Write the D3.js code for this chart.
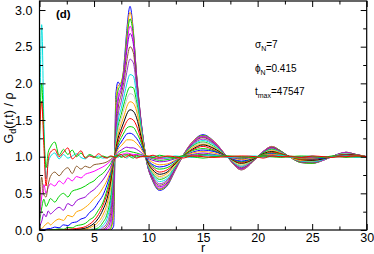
<!DOCTYPE html>
<html>
<head>
<meta charset="utf-8">
<script src="https://cdn.jsdelivr.net/npm/d3@7"></script>
<style>
  body { margin: 0; background: #fff; }
  svg text { font-family: "Liberation Sans", Arial, sans-serif; }
</style>
</head>
<body>
<div id="viz"></div>
<script>
// r grid shared by all curves
var rValues = [0, 0.2, 0.4, 0.6, 0.8, 1.0, 1.4, 1.8, 2.2, 2.6, 3.0, 3.4, 3.8, 4.2, 4.6, 5.0, 5.4, 5.8, 6.2, 6.5, 6.8,
  7.0, 7.2, 7.5, 7.8, 8.0, 8.3, 8.6, 8.9, 9.3,
  9.8, 10.4, 11.0, 11.7, 12.4, 13.1, 14.0, 15.0, 16.0, 17.2, 18.5, 19.8, 20.5, 21.3, 22.1, 23.0, 24.0, 25.0, 26.0, 26.8, 27.5, 28.1, 29.0, 30];

// early time -> late time
var curveColors = ['#0000ff', '#ffa500', '#00d000', '#ff00ff', '#9400d3', '#8b5a2b', '#9932cc', '#00e0e0',
  '#00d000', '#c8c8c8', '#ffa500', '#000000', '#ff0000', '#00d000', '#0000ff', '#ffa500', '#9400d3',
  '#00d000', '#ff00ff', '#8b5a2b', '#00e0e0', '#00d000', '#ff0000'];

var gCurves = [
  [0,0,0,0,0,0,0,0,0,0,0,0,0,0,0,0,0,0,0,0,0.05,
   1.85,2.02,1.95,2.35,2.72,3.05,2.72,2.1,1.45,
   0.95,0.66,0.54,0.6,0.8,1.0,1.2,1.3,1.21,1.0,0.82,0.97,1.07,1.14,1.08,0.99,0.92,0.91,0.95,1.0,1.04,1.06,1.03,1.0],
  [0,0,0,0,0,0,0,0,0,0,0,0,0,0,0,0,0,0,0,0.005,0.2,
   1.75,1.96,2.02,2.3,2.65,2.97,2.7,2.12,1.48,
   0.95,0.67,0.55,0.61,0.8,1.0,1.2,1.29,1.21,1.0,0.82,0.97,1.07,1.14,1.08,0.99,0.92,0.91,0.95,1.0,1.04,1.06,1.03,1.0],
  [0,0,0,0,0,0,0,0,0,0,0,0,0,0,0,0,0,0,0,0.02,0.35,
   1.62,1.9,2.0,2.26,2.58,2.88,2.66,2.12,1.5,
   0.95,0.67,0.56,0.62,0.81,1.0,1.19,1.29,1.2,1.0,0.83,0.97,1.07,1.13,1.08,0.99,0.92,0.91,0.95,1.0,1.04,1.06,1.03,1.0],
  [0,0,0,0,0,0,0,0,0,0,0,0,0,0,0,0,0,0,0.01,0.06,0.5,
   1.5,1.82,1.96,2.22,2.5,2.78,2.6,2.1,1.5,
   0.95,0.68,0.57,0.63,0.81,1.0,1.19,1.28,1.2,1.0,0.83,0.97,1.07,1.13,1.07,0.99,0.93,0.92,0.95,1.0,1.04,1.06,1.03,1.0],
  [0,0,0,0,0,0,0,0,0,0,0,0,0,0,0,0,0,0,0.03,0.12,0.62,
   1.42,1.75,1.92,2.18,2.44,2.68,2.54,2.08,1.5,
   0.96,0.69,0.59,0.64,0.82,1.0,1.18,1.27,1.19,1.0,0.84,0.97,1.06,1.13,1.07,0.99,0.93,0.92,0.96,1.0,1.04,1.05,1.03,1.0],
  [0,0,0,0,0,0,0,0,0,0,0,0,0,0,0,0,0,0.01,0.06,0.2,0.72,
   1.33,1.65,1.85,2.08,2.3,2.5,2.42,2.02,1.48,
   0.96,0.71,0.61,0.66,0.83,1.0,1.17,1.26,1.18,1.0,0.85,0.97,1.06,1.12,1.07,0.99,0.93,0.92,0.96,1.0,1.03,1.05,1.03,1.0],
  [0,0,0,0,0,0,0,0,0,0,0,0,0,0,0,0,0,0.03,0.1,0.28,0.8,
   1.27,1.56,1.76,1.98,2.15,2.33,2.28,1.95,1.45,
   0.96,0.73,0.63,0.68,0.84,1.0,1.16,1.24,1.17,1.0,0.86,0.98,1.06,1.11,1.06,0.99,0.94,0.93,0.96,1.0,1.03,1.05,1.02,1.0],
  [0,0,0,0,0,0,0,0,0,0,0,0,0,0,0,0,0.01,0.06,0.16,0.36,0.85,
   1.22,1.48,1.66,1.86,1.99,2.12,2.1,1.85,1.42,
   0.96,0.75,0.66,0.7,0.85,1.0,1.15,1.22,1.16,1.0,0.87,0.98,1.05,1.1,1.06,0.99,0.94,0.93,0.96,1.0,1.03,1.04,1.02,1.0],
  [0,0,0,0,0,0,0,0,0,0,0,0,0,0,0,0.01,0.03,0.1,0.22,0.44,0.88,
   1.18,1.4,1.58,1.75,1.86,1.95,1.94,1.75,1.38,
   0.97,0.77,0.69,0.73,0.86,1.0,1.14,1.2,1.14,1.0,0.88,0.98,1.05,1.1,1.05,0.99,0.95,0.94,0.97,1.0,1.03,1.04,1.02,1.0],
  [0,0,0,0,0,0,0,0,0,0,0,0,0,0,0.01,0.03,0.07,0.15,0.29,0.52,0.9,
   1.15,1.36,1.52,1.68,1.78,1.86,1.84,1.69,1.35,
   0.97,0.78,0.71,0.74,0.87,1.0,1.13,1.19,1.13,1.0,0.88,0.98,1.04,1.09,1.05,0.99,0.95,0.94,0.97,1.0,1.03,1.04,1.02,1.0],
  [0,0,0,0,0,0,0,0,0,0,0,0,0,0.01,0.03,0.06,0.11,0.2,0.36,0.58,0.92,
   1.13,1.3,1.45,1.58,1.68,1.75,1.73,1.62,1.32,
   0.97,0.8,0.73,0.77,0.88,1.0,1.12,1.17,1.12,1.0,0.9,0.98,1.04,1.08,1.05,0.99,0.95,0.95,0.97,1.0,1.02,1.03,1.02,1.0],
  [0,0,0,0,0,0,0,0,0,0,0,0.01,0.015,0.025,0.05,0.09,0.16,0.27,0.43,0.64,0.93,
   1.1,1.25,1.38,1.5,1.58,1.64,1.62,1.53,1.28,
   0.97,0.82,0.76,0.79,0.9,1.0,1.1,1.16,1.11,1.0,0.91,0.98,1.04,1.07,1.04,1.0,0.96,0.95,0.97,1.0,1.02,1.03,1.02,1.0],
  [0,0,0,0,0,0,0,0,0.005,0.01,0.015,0.02,0.03,0.045,0.08,0.13,0.21,0.33,0.5,0.68,0.94,
   1.08,1.2,1.32,1.42,1.48,1.52,1.5,1.42,1.24,
   0.98,0.85,0.79,0.82,0.91,1.0,1.09,1.14,1.09,1.0,0.92,0.99,1.03,1.06,1.04,1.0,0.96,0.96,0.98,1.0,1.02,1.03,1.01,1.0],
  [0,0,0,0,0,0,0.005,0.015,0.01,0.035,0.03,0.06,0.07,0.09,0.14,0.18,0.27,0.37,0.55,0.72,0.95,
   1.06,1.16,1.26,1.34,1.39,1.41,1.4,1.33,1.2,
   0.98,0.87,0.83,0.85,0.92,1.0,1.08,1.11,1.08,1.0,0.93,0.99,1.03,1.05,1.03,1.0,0.97,0.97,0.98,1.0,1.02,1.02,1.01,1.0],
  [0.02,0.01,0.005,0.01,0.02,0.02,0.04,0.03,0.07,0.06,0.1,0.11,0.15,0.17,0.24,0.29,0.38,0.47,0.62,0.77,0.96,
   1.05,1.13,1.2,1.27,1.31,1.32,1.3,1.25,1.15,
   0.98,0.89,0.86,0.88,0.94,1.0,1.06,1.09,1.07,1.0,0.94,0.99,1.02,1.04,1.02,1.0,0.98,0.97,0.98,1.0,1.01,1.02,1.01,1.0],
  [0.03,0.02,0.05,0.08,0.1,0.07,0.12,0.15,0.13,0.2,0.18,0.25,0.27,0.31,0.36,0.43,0.48,0.57,0.68,0.8,0.96,
   1.04,1.1,1.15,1.2,1.23,1.23,1.22,1.18,1.11,
   0.99,0.92,0.89,0.9,0.95,1.0,1.05,1.07,1.05,1.0,0.96,0.99,1.02,1.03,1.02,1.0,0.98,0.98,0.99,1.0,1.01,1.01,1.01,1.0],
  [0.05,0.12,0.22,0.18,0.26,0.22,0.27,0.31,0.27,0.36,0.33,0.4,0.43,0.45,0.51,0.55,0.61,0.68,0.77,0.85,0.97,
   1.02,1.06,1.09,1.12,1.13,1.12,1.12,1.1,1.06,
   0.99,0.95,0.93,0.94,0.97,1.0,1.03,1.05,1.03,1.0,0.97,1.0,1.01,1.02,1.01,1.0,0.99,0.99,0.99,1.0,1.01,1.01,1.0,1.0],
  [0.1,0.3,0.42,0.32,0.37,0.43,0.38,0.46,0.5,0.45,0.53,0.55,0.57,0.6,0.64,0.67,0.73,0.77,0.84,0.9,0.98,
   1.01,1.03,1.06,1.07,1.08,1.07,1.06,1.05,1.03,
   1.0,0.97,0.95,0.96,0.98,1.0,1.02,1.03,1.02,1.0,0.98,1.0,1.01,1.01,1.01,1.0,0.99,0.99,1.0,1.0,1.0,1.01,1.0,1.0],
  [0.15,0.45,0.62,0.5,0.58,0.63,0.6,0.67,0.63,0.71,0.67,0.73,0.71,0.76,0.78,0.8,0.83,0.86,0.9,0.94,0.98,
   1.0,1.02,1.03,1.04,1.05,1.04,1.03,1.03,1.02,
   1.0,0.98,0.97,0.98,0.99,1.0,1.01,1.02,1.01,1.0,0.99,1.0,1.0,1.01,1.0,1.0,1.0,0.99,1.0,1.0,1.0,1.0,1.0,1.0],
  [0.2,0.72,0.48,0.45,0.62,0.73,0.79,0.74,0.81,0.85,0.77,0.87,0.83,0.87,0.85,0.89,0.9,0.91,0.93,0.96,0.99,
   0.99,1.01,1.0,1.03,1.02,1.03,1.01,1.02,1.0,
   1.01,0.99,0.98,1.0,0.99,1.01,1.0,1.02,1.0,1.01,0.99,1.0,1.01,1.0,1.0,1.01,0.99,1.0,1.0,0.99,1.01,1.0,1.0,1.0],
  [1.1,2.8,1.5,0.7,0.92,1.0,1.05,0.97,1.03,0.98,1.01,1.04,0.99,0.97,1.02,0.99,1.01,0.98,0.99,1.0,1.0,
   1.01,0.99,1.02,1.0,0.98,1.01,1.0,0.99,1.01,
   0.99,1.01,1.0,0.98,1.01,1.0,0.99,1.01,1.02,0.99,1.0,1.01,0.99,1.0,1.02,0.99,1.0,1.01,0.99,1.0,1.0,1.01,0.99,1.0],
  [1.2,2.0,1.3,0.85,1.06,1.13,1.2,1.02,1.1,1.03,1.09,1.0,1.05,0.99,1.03,1.0,0.98,1.01,0.99,1.0,1.0,
   1.0,1.02,0.99,1.01,1.03,1.0,0.98,1.01,1.0,
   1.01,0.99,1.02,1.0,0.99,1.01,1.0,0.98,1.0,1.01,1.0,0.99,1.01,1.0,0.99,1.0,1.01,1.0,0.99,1.01,1.0,0.99,1.0,1.0],
  [1.3,1.75,1.15,0.6,0.95,1.06,1.1,1.0,1.06,1.12,0.97,1.02,1.08,0.98,1.01,0.99,1.04,1.0,0.98,1.01,1.0,
   0.98,1.01,1.03,0.99,1.0,1.02,1.01,0.98,1.0,
   1.0,1.02,0.99,1.01,1.0,0.98,1.01,1.0,0.99,1.0,1.01,1.0,0.98,1.01,1.0,1.0,0.99,1.01,1.0,0.99,1.0,1.0,1.01,1.0]
];

var xMajor = [0, 5, 10, 15, 20, 25, 30],
  xMinor = [2.5, 7.5, 12.5, 17.5, 22.5, 27.5],
  yMajor = [0, 0.5, 1.0, 1.5, 2.0, 2.5, 3.0],
  yMinor = [0.25, 0.75, 1.25, 1.75, 2.25, 2.75];

var W = 374, H = 254;
var margin = { left: 39.5, right: 366.7, top: 1, bottom: 230 };

var xScale = d3.scaleLinear().domain([0, 30]).range([margin.left, margin.right]);
var yScale = d3.scaleLinear().domain([0, 3.123]).range([margin.bottom, margin.top]);

var svg = d3.select('#viz').append('svg')
  .attr('width', W)
  .attr('height', H);

svg.append('clipPath').attr('id', 'clip')
  .append('rect')
  .attr('x', margin.left).attr('y', margin.top)
  .attr('width', margin.right - margin.left).attr('height', margin.bottom - margin.top);

var line = d3.line()
  .x(function(d, i) { return xScale(rValues[i]); })
  .y(function(d) { return yScale(d); })
  .curve(d3.curveMonotoneX);

svg.append('g')
  .attr('clip-path', 'url(#clip)')
  .selectAll('path').data(gCurves)
  .enter().append('path')
  .attr('d', line)
  .attr('fill', 'none')
  .attr('stroke', function(d, i) { return curveColors[i]; })
  .attr('stroke-width', 1)
  .attr('stroke-linejoin', 'round');

// axes: all ticks point inward
function styleAxis(g) {
  g.select('.domain').remove();
  g.selectAll('line').attr('stroke', '#000').attr('stroke-width', 1);
  g.selectAll('text').attr('fill', '#000').style('font-size', '12.5px');
}

svg.append('g').attr('transform', 'translate(0,' + margin.bottom + ')')
  .call(d3.axisBottom(xScale).tickValues(xMajor).tickSize(-6).tickPadding(3).tickFormat(d3.format('d')))
  .call(styleAxis);
svg.append('g').attr('transform', 'translate(0,' + margin.bottom + ')')
  .call(d3.axisBottom(xScale).tickValues(xMinor).tickSize(-3.5).tickFormat(''))
  .call(styleAxis);
svg.append('g').attr('transform', 'translate(0,' + margin.top + ')')
  .call(d3.axisTop(xScale).tickValues(xMajor).tickSize(-6).tickFormat(''))
  .call(styleAxis);
svg.append('g').attr('transform', 'translate(0,' + margin.top + ')')
  .call(d3.axisTop(xScale).tickValues(xMinor).tickSize(-3.5).tickFormat(''))
  .call(styleAxis);

svg.append('g').attr('transform', 'translate(' + margin.left + ',0)')
  .call(d3.axisLeft(yScale).tickValues(yMajor).tickSize(-6).tickPadding(7).tickFormat(d3.format('.1f')))
  .call(styleAxis);
svg.append('g').attr('transform', 'translate(' + margin.left + ',0)')
  .call(d3.axisLeft(yScale).tickValues(yMinor).tickSize(-3.5).tickFormat(''))
  .call(styleAxis);
svg.append('g').attr('transform', 'translate(' + margin.right + ',0)')
  .call(d3.axisRight(yScale).tickValues(yMajor).tickSize(-6).tickFormat(''))
  .call(styleAxis);
svg.append('g').attr('transform', 'translate(' + margin.right + ',0)')
  .call(d3.axisRight(yScale).tickValues(yMinor).tickSize(-3.5).tickFormat(''))
  .call(styleAxis);

svg.append('rect')
  .attr('x', margin.left).attr('y', margin.top)
  .attr('width', margin.right - margin.left).attr('height', margin.bottom - margin.top)
  .attr('fill', 'none').attr('stroke', '#000').attr('stroke-width', 1.2);

// axis titles
svg.append('text')
  .attr('x', xScale(15)).attr('y', 251.5)
  .attr('text-anchor', 'middle')
  .style('font-size', '12.5px')
  .text('r');

var yl = svg.append('text')
  .attr('transform', 'translate(13,118) rotate(-90)')
  .attr('text-anchor', 'middle')
  .style('font-size', '12.5px');
yl.append('tspan').text('G');
yl.append('tspan').attr('dy', 3).style('font-size', '9px').text('d');
yl.append('tspan').attr('dy', -3).text('(r,t) / ρ');

// annotations
svg.append('text')
  .attr('x', 56).attr('y', 18)
  .style('font-size', '11.5px').style('font-weight', 'bold')
  .text('(d)');

var notes = [
  { main: 'σ', sub: 'N', rest: '=7', y: 48 },
  { main: 'ϕ', sub: 'N', rest: '=0.415', y: 72 },
  { main: 't', sub: 'max', rest: '=47547', y: 94.5 }
];
notes.forEach(function(n) {
  var t = svg.append('text').attr('x', 255).attr('y', n.y).style('font-size', '10px');
  t.append('tspan').text(n.main);
  t.append('tspan').attr('dy', 3).style('font-size', '7px').text(n.sub);
  t.append('tspan').attr('dy', -3).text(n.rest);
});
</script>
</body>
</html>
